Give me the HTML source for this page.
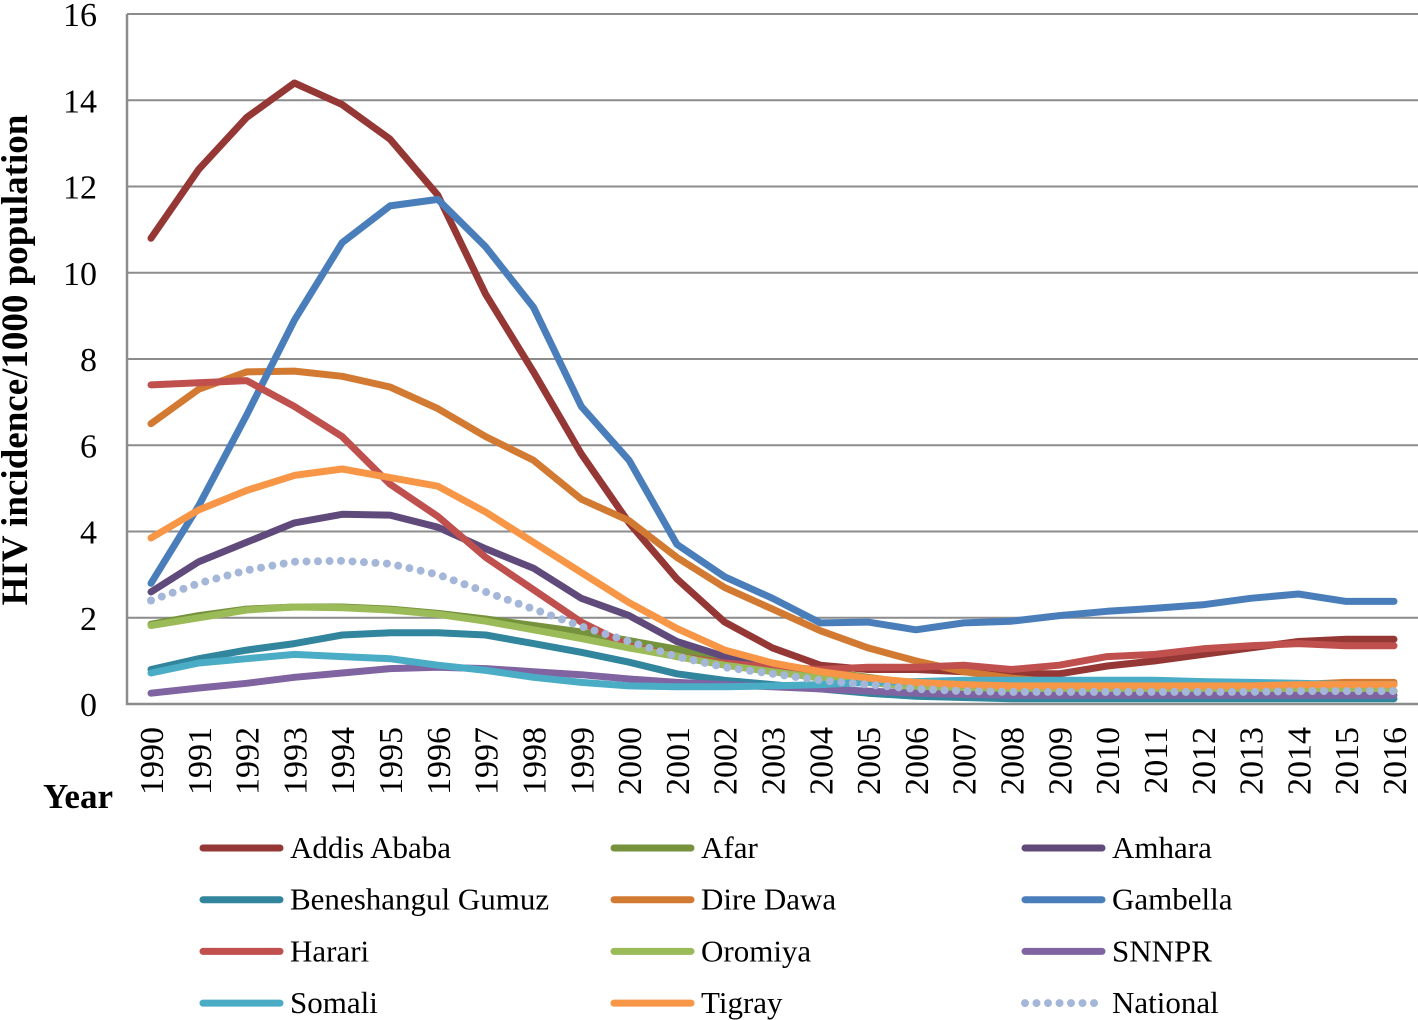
<!DOCTYPE html>
<html><head><meta charset="utf-8"><style>
html,body{margin:0;padding:0;background:#fff;}
svg{display:block;font-family:"Liberation Serif",serif;}
</style></head><body>
<svg id="chart" width="1418" height="1020" viewBox="0 0 1418 1020">
<g id="grid"></g><g id="series"></g><g id="axes"></g><g id="legend"></g>
<text x="27" y="360" transform="rotate(-90 27 360)" text-anchor="middle" font-weight="bold" font-size="37">HIV incidence/1000 population</text>
<text x="78" y="808" text-anchor="middle" font-weight="bold" font-size="35">Year</text>
</svg>
<script>
const years=[1990,1991,1992,1993,1994,1995,1996,1997,1998,1999,2000,2001,2002,2003,2004,2005,2006,2007,2008,2009,2010,2011,2012,2013,2014,2015,2016];
const yTicks=[0,2,4,6,8,10,12,14,16];
const seriesNames=["Addis Ababa","Afar","Amhara","Beneshangul Gumuz","Dire Dawa","Gambella","Harari","Oromiya","SNNPR","Somali","Tigray","National"];
const seriesColors=["#953735","#76923C","#604A7B","#31859C","#D37A32","#4A7EBB","#C0504D","#9BBB59","#8064A2","#4BACC6","#F79646","#A5B7D9"];
const addisAbaba=[10.8,12.4,13.6,14.4,13.9,13.1,11.8,9.5,7.7,5.8,4.2,2.9,1.9,1.3,0.9,0.8,0.8,0.75,0.7,0.7,0.88,1.0,1.15,1.3,1.45,1.5,1.5];
const afar=[1.85,2.05,2.2,2.25,2.25,2.2,2.1,1.97,1.82,1.67,1.47,1.27,1.07,0.92,0.77,0.62,0.47,0.4,0.35,0.3,0.3,0.3,0.3,0.3,0.3,0.3,0.3];
const amhara=[2.6,3.3,3.75,4.2,4.4,4.38,4.1,3.6,3.15,2.45,2.05,1.45,1.1,0.85,0.65,0.5,0.4,0.35,0.3,0.3,0.3,0.3,0.3,0.3,0.3,0.3,0.3];
const beneshangul=[0.8,1.05,1.25,1.4,1.6,1.65,1.65,1.6,1.4,1.2,0.97,0.7,0.55,0.45,0.35,0.25,0.18,0.15,0.12,0.12,0.12,0.12,0.12,0.12,0.12,0.12,0.12];
const direDawa=[6.5,7.3,7.7,7.72,7.6,7.35,6.85,6.2,5.65,4.75,4.25,3.4,2.7,2.2,1.7,1.3,1.0,0.75,0.6,0.5,0.45,0.45,0.45,0.45,0.45,0.5,0.5];
const gambella=[2.8,4.6,6.7,8.9,10.7,11.55,11.7,10.6,9.2,6.9,5.65,3.7,2.95,2.45,1.88,1.9,1.72,1.88,1.92,2.05,2.15,2.22,2.3,2.45,2.55,2.38,2.38];
const harari=[7.4,7.45,7.5,6.9,6.2,5.1,4.35,3.4,2.65,1.9,1.35,1.1,0.95,0.85,0.8,0.85,0.85,0.9,0.8,0.9,1.1,1.15,1.28,1.35,1.4,1.35,1.35];
const oromiya=[1.82,2.0,2.18,2.25,2.23,2.18,2.08,1.92,1.72,1.52,1.3,1.1,0.9,0.75,0.6,0.5,0.4,0.35,0.3,0.3,0.3,0.3,0.3,0.3,0.3,0.3,0.3];
const snnpr=[0.25,0.37,0.48,0.62,0.72,0.82,0.85,0.82,0.75,0.68,0.58,0.5,0.45,0.4,0.35,0.3,0.25,0.22,0.2,0.2,0.2,0.2,0.2,0.2,0.2,0.2,0.2];
const somali=[0.72,0.95,1.05,1.15,1.1,1.05,0.9,0.78,0.62,0.5,0.42,0.4,0.4,0.42,0.45,0.5,0.52,0.55,0.55,0.55,0.55,0.55,0.52,0.5,0.48,0.45,0.45];
const tigray=[3.85,4.5,4.95,5.3,5.45,5.25,5.05,4.45,3.75,3.05,2.35,1.75,1.25,0.95,0.75,0.6,0.5,0.45,0.42,0.42,0.42,0.42,0.42,0.42,0.45,0.45,0.45];
const national=[2.4,2.8,3.1,3.3,3.32,3.25,3.0,2.6,2.2,1.8,1.45,1.1,0.85,0.7,0.55,0.45,0.35,0.3,0.28,0.28,0.28,0.28,0.28,0.28,0.3,0.3,0.3];
const allSeries=[addisAbaba,afar,amhara,beneshangul,direDawa,gambella,harari,oromiya,snnpr,somali,tigray,national];

const NS="http://www.w3.org/2000/svg";
const L=127,R=1418,T=14,B=704,yMax=16;
function xScale(i){return 151+i*(1394-151)/(years.length-1);}
function yScale(v){return B-(v/yMax)*(B-T);}
function mk(tag,attrs,parent){const e=document.createElementNS(NS,tag);for(const k in attrs)e.setAttribute(k,attrs[k]);parent.appendChild(e);return e;}
const grid=document.getElementById('grid'),axes=document.getElementById('axes'),ser=document.getElementById('series'),leg=document.getElementById('legend');
yTicks.forEach(v=>{
  const y=yScale(v);
  if(v>0){const g=mk('line',{x1:L,x2:R,y1:y,y2:y,stroke:'#8c8c8c','stroke-width':2},grid);
  
  }
  const t=mk('text',{x:97,y:y+12,'text-anchor':'end','font-size':34},axes);
  t.textContent=v;
  
  
});
const ax=mk('path',{d:`M${L} ${T}V${B}H${R}`,fill:'none',stroke:'#8c8c8c','stroke-width':2.5},axes);


years.forEach((yr,i)=>{
  const x=xScale(i);
  const t=mk('text',{x:0,y:0,'text-anchor':'end','font-size':34,transform:`translate(${x+12},${727}) rotate(-90)`},axes);
  t.textContent=yr;
  
  
});
allSeries.forEach((arr,s)=>{
  const d=arr.map((v,i)=>(i?'L':'M')+xScale(i).toFixed(1)+' '+yScale(v).toFixed(1)).join('');
  const isNat=s===11;
  const p=mk('path',{d:d,fill:'none',stroke:seriesColors[s],'stroke-width':7,'stroke-linejoin':'round','stroke-linecap':'round'},ser);
  if(isNat){p.setAttribute('stroke-dasharray','0 11.5');p.setAttribute('stroke-width','8');}
  
  
});
seriesNames.forEach((n,s)=>{
  const col=s%3,row=Math.floor(s/3);
  const x=200+col*411,y=848+row*51.7;
  const g=mk('g',{},leg);
  
  
  const ln=mk('line',{x1:x+3,x2:x+80,y1:y,y2:y,stroke:seriesColors[s],'stroke-width':s===11?8:7,'stroke-linecap':'round'},g);
  if(s===11)ln.setAttribute('stroke-dasharray','0 11.5');
  const t=mk('text',{x:x+90,y:y+10,'font-size':31},g);
  t.textContent=n;
});
</script>
</body></html>
